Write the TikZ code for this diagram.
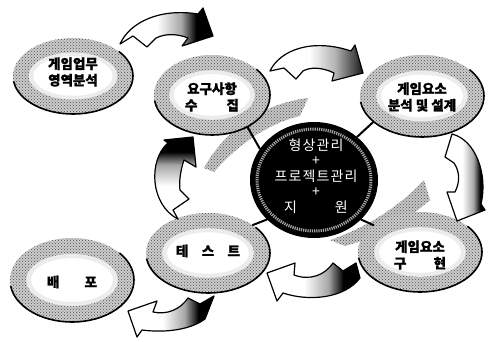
\documentclass[tikz,border=0pt]{standalone}
\usepackage{fontspec}
\newfontfamily\kor{Noto Sans CJK KR}[BoldFeatures={FakeBold=1.2}]
\newfontfamily\korsp{Noto Sans CJK KR}[LetterSpace=8]
\usetikzlibrary{shapes.geometric,patterns}
\pgfdeclarehorizontalshading{wdark}{100bp}{color(0bp)=(white); color(45bp)=(white); color(58bp)=(gray!70); color(66bp)=(black); color(100bp)=(black)}
\pgfdeclarehorizontalshading{wgray}{100bp}{color(0bp)=(white); color(46bp)=(white); color(60bp)=(gray!60); color(75bp)=(gray!20!black); color(100bp)=(gray!20!black)}
\tikzset{
  lbl/.style={font=\kor\bfseries\fontsize{13.5}{16.5}\selectfont, align=center, inner sep=0pt},
  bubshape/.style={ellipse, inner sep=0pt},
  ctext/.style={font=\korsp\fontsize{14}{15.5}\selectfont, text=white, align=center, inner sep=0pt},
  barrow/.style={draw=black, line width=1.2pt, line join=round},
  tail/.style={line width=2pt, black, line cap=round},
  streak/.style={fill=gray!45},
  streakdots/.style={pattern=crosshatch dots, pattern color=gray!60!black},
}
\newcommand\gbub[7]{%
  \fill[gray!40] (#2,#3) ellipse [x radius=#4, y radius=#5];
  \fill[pattern=crosshatch dots, pattern color=gray!60!black] (#2,#3) ellipse [x radius=#4, y radius=#5];
  \fill[gray!15] (#2,#3) ellipse [x radius=0.74*#4, y radius=0.62*#5];
  \fill[white] (#2,#3) ellipse [x radius=0.66*#4, y radius=0.52*#5];
  \draw[line width=1.6pt] ([shift={(-40:#4 and #5)}]#2,#3) arc [start angle=-40, end angle=172, x radius=#4, y radius=#5];
  \node[bubshape, minimum width=2*#4 pt, minimum height=2*#5 pt] (#1) at (#2,#3) {};
  \node[lbl] (#1t) at (#2,#3+#6) {#7};
}
\begin{document}
\begin{tikzpicture}[x=1pt,y=-1pt]
\useasboundingbox (0,0) rectangle (488,341);
% gray swirls around the centre
\path[streak] (204,168) .. controls (222,135) and (258,104) .. (308,98) -- (300,116)
  .. controls (265,124) and (235,148) .. (214,172) -- cycle;
\path[streakdots] (204,168) .. controls (222,135) and (258,104) .. (308,98) -- (300,116)
  .. controls (265,124) and (235,148) .. (214,172) -- cycle;
\path[streak] (330,240) .. controls (365,228) and (398,208) .. (424,180) -- (430,200)
  .. controls (405,222) and (375,238) .. (345,246) -- cycle;
\path[streakdots] (330,240) .. controls (365,228) and (398,208) .. (424,180) -- (430,200)
  .. controls (405,222) and (375,238) .. (345,246) -- cycle;
% bubbles
\gbub{biz}{73}{76}{60}{38}{-4}{게임업무\\영역분석}
\gbub{rq}{212}{95}{58}{40}{2}{요구사항\\\makebox[54pt][s]{수\hfill 집}}
\gbub{an}{422}{96}{62}{41}{1}{게임요소\\분석 및 설계}
\gbub{ir}{420}{252}{62}{40}{3}{게임요소\\\makebox[52pt][s]{구\hfill 현}}
\gbub{te}{208}{253}{62}{40}{-2}{\makebox[64pt][s]{테\hfill 스\hfill 트}}
\gbub{dp}{72}{280}{62}{42}{2}{\makebox[50pt][s]{배\hfill 포}}
% centre
\node[ellipse, fill=black, minimum width=128pt, minimum height=116pt, inner sep=0pt] (core) at (314,180) {};
\draw[gray!70, line width=3pt, dash pattern=on 1.2pt off 1pt] (core.center) ellipse [x radius=57, y radius=51];
\node[ctext] (coret) at (316,176) {형상관리\\+\\프로젝트관리\\+\\지\hspace{38pt}원};
% tails
\draw[tail] (core.45) -- (an.208);
\draw[tail] (core.-40) -- (ir.150);
\draw[tail] (core.-140) -- (te.32);
\draw[tail] (core.150) -- (rq.-42);
% block arrows
\shadedraw[barrow, shading=wdark]
  (120,44) .. controls (130,22) and (160,8) .. (198,14) -- (203,8) -- (213,36) -- (182,46) -- (188,38)
  .. controls (178,34) and (166,33) .. (156,38) -- (147,47) -- (133,36) -- cycle;
\shadedraw[barrow, shading=wgray]
  (270,71) .. controls (280,50) and (312,38) .. (351,51) -- (355,45) -- (363,73) -- (332,81) -- (334,73)
  .. controls (322,67) and (310,67) .. (303,71) -- (296,79) -- (284,68) -- cycle;
\shadedraw[barrow, shading=wdark]
  (452,134) .. controls (476,140) and (488,175) .. (481,204) -- (485,210) -- (457,221) -- (447,192) -- (455,192)
  .. controls (460,182) and (460,172) .. (454,163) -- (445,157) -- cycle;
\shadedraw[barrow, shading=wdark]
  (267,273) -- (295,263) -- (294,275) .. controls (310,281) and (325,275) .. (333,263) -- (343,271) -- (356,263)
  -- (360,278) .. controls (345,298) and (310,302) .. (283,293) -- (277,301) -- cycle;
\shadedraw[barrow, shading=wdark]
  (128,311) -- (157,301) -- (153,312) .. controls (166,315) and (180,310) .. (188,298) -- (200,304) -- (214,296)
  -- (205,319) .. controls (190,330) and (165,333) .. (142,330) -- (137,337) -- cycle;
\shadedraw[barrow, shading=wdark, shading angle=90]
  (193,137) -- (196,167) -- (184,160) .. controls (180,172) and (179,183) .. (180,190) -- (189,199) -- (173,210)
  -- (178,219) .. controls (150,205) and (148,160) .. (168,143) -- (164,140) -- cycle;
\end{tikzpicture}
\end{document}
